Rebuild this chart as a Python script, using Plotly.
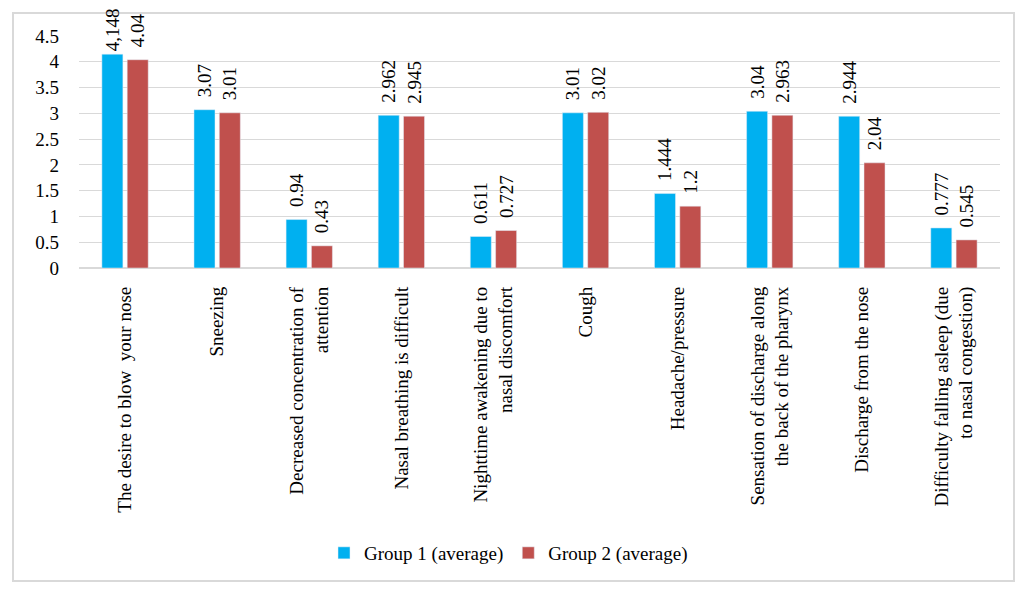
import plotly.graph_objects as go

categories = [
    "The desire to blow  your nose",
    "Sneezing",
    "Decreased concentration of<br>attention",
    "Nasal breathing is difficult",
    "Nighttime awakening due to<br>nasal discomfort",
    "Cough",
    "Headache/pressure",
    "Sensation of discharge along<br>the back of the pharynx",
    "Discharge from the nose",
    "Difficulty falling asleep (due<br>to nasal congestion)",
]
group1 = [4.148, 3.07, 0.94, 2.962, 0.611, 3.01, 1.444, 3.04, 2.944, 0.777]
group2 = [4.04, 3.01, 0.43, 2.945, 0.727, 3.02, 1.2, 2.963, 2.04, 0.545]
group1_labels = ["4,148", "3.07", "0.94", "2.962", "0.611", "3.01", "1.444", "3.04", "2.944", "0.777"]
group2_labels = ["4.04", "3.01", "0.43", "2.945", "0.727", "3.02", "1.2", "2.963", "2.04", "0.545"]
yticks = [0, 0.5, 1, 1.5, 2, 2.5, 3, 3.5, 4, 4.5]
ytick_text = ["0", "0.5", "1", "1.5", "2", "2.5", "3", "3.5", "4", "4.5"]

FONT = "Liberation Serif, Times New Roman, serif"
FS = 19
PAD = "\u00a0\u00a0"

def padded(labels, keep_first=False):
    return [(s if (keep_first and i == 0) else PAD + s) for i, s in enumerate(labels)]

fig = go.Figure()
fig.add_trace(go.Bar(
    x=categories, y=group1, name="Group 1 (average)",
    marker_color="#00B0F0", text=padded(group1_labels, keep_first=True),
    textposition="outside",
    textangle=-90, textfont=dict(family=FONT, size=FS, color="black"),
    cliponaxis=False, constraintext="none",
))
fig.add_trace(go.Bar(
    x=categories, y=group2, name="Group 2 (average)",
    marker_color="#C0504D", text=padded(group2_labels),
    textposition="outside",
    textangle=-90, textfont=dict(family=FONT, size=FS, color="black"),
    cliponaxis=False, constraintext="none",
))

L, R, T, B = 79, 26, 36, 328
W, H = 1026, 596
pw = W - L - R
ph = H - T - B

fig.update_layout(
    width=W, height=H,
    margin=dict(l=L, r=R, t=T, b=B, pad=0, autoexpand=False),
    paper_bgcolor="white", plot_bgcolor="white",
    barmode="group", bargap=0.45, bargroupgap=0.17,
    font=dict(family=FONT, size=FS, color="black"),
    showlegend=True,
    legend=dict(orientation="h", x=(324 - L) / pw, xanchor="left",
                y=(T + ph - 553) / ph, yanchor="middle",
                font=dict(family=FONT, size=FS, color="black"),
                itemwidth=30, traceorder="normal", bgcolor="rgba(0,0,0,0)"),
    xaxis=dict(tickangle=-90, showgrid=False, showline=False, ticks="",
               ticklabelstandoff=14, automargin=False,
               tickfont=dict(family=FONT, size=FS, color="black")),
    yaxis=dict(range=[0, 4.5], tickvals=yticks, ticktext=ytick_text,
               showgrid=True, gridcolor="#D9D9D9", gridwidth=1,
               zeroline=True, zerolinecolor="#D9D9D9", showline=False,
               ticks="", ticklabelstandoff=19, automargin=False,
               tickfont=dict(family=FONT, size=FS, color="black")),
    shapes=[dict(type="rect", xref="paper", yref="paper",
                 x0=(13 - L) / pw, x1=(1014 - L) / pw,
                 y0=(T + ph - 581) / ph, y1=(T + ph - 13) / ph,
                 line=dict(color="#D9D9D9", width=2), fillcolor="rgba(0,0,0,0)",
                 layer="below")],
)

fig.write_html("out.html", config={"displayModeBar": False},
               post_script="document.body.style.margin='0';")
